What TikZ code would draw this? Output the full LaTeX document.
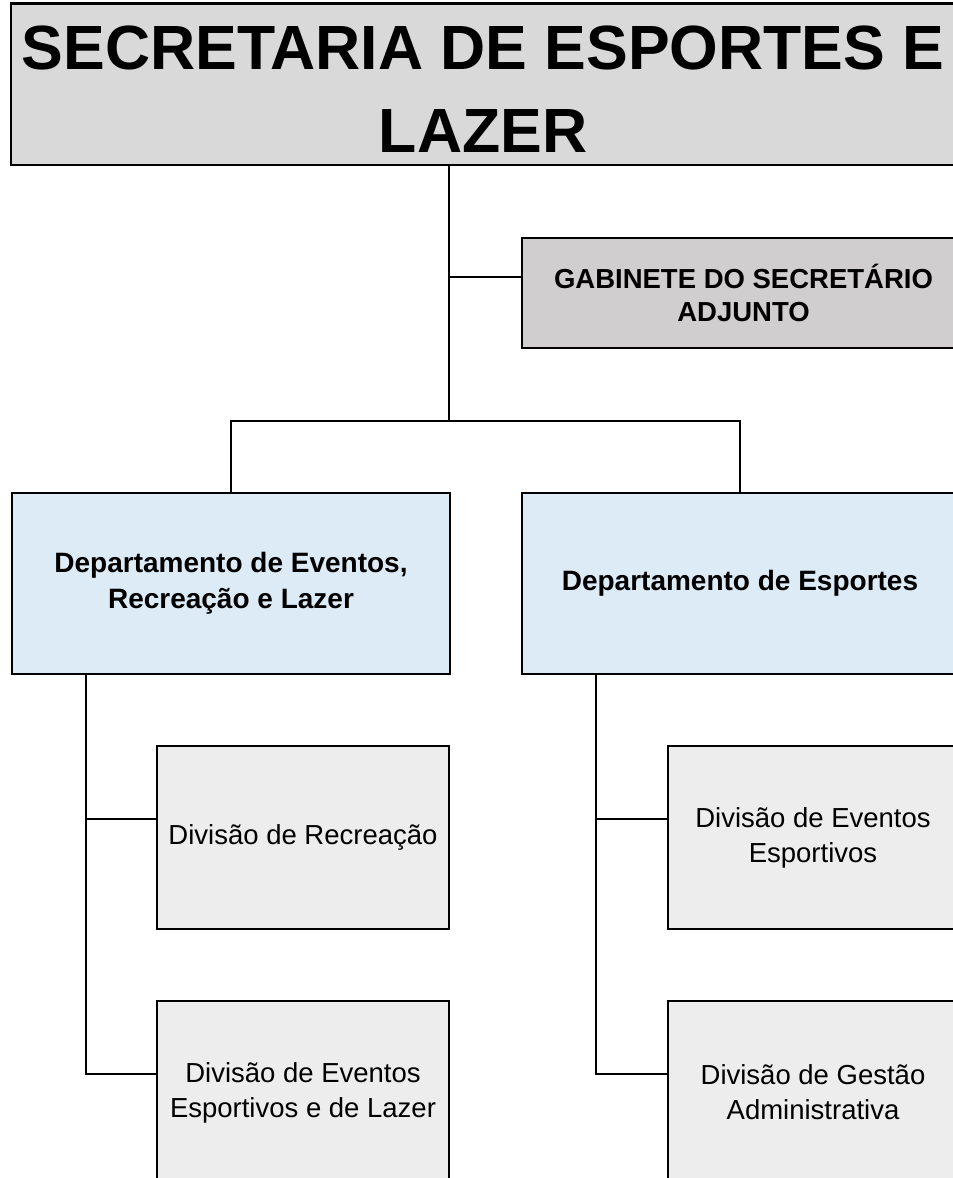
\documentclass[tikz,border=0pt]{standalone}
\usepackage{fontspec}
\setmainfont{Liberation Sans}
\usetikzlibrary{calc}
\definecolor{topgray}{HTML}{D9D9D9}
\definecolor{gabgray}{HTML}{D0CECE}
\definecolor{deptblue}{HTML}{DDEBF7}
\definecolor{divgray}{HTML}{EDEDED}
\tikzset{
  box/.style={draw=black, line width=2.2pt, rectangle, inner sep=0pt, align=center, text=black},
  topbox/.style={box, fill=topgray, minimum width=944pt, minimum height=161.5pt,
    font=\bfseries\fontsize{62.5}{83}\selectfont},
  gabbox/.style={box, fill=gabgray, minimum width=443pt, minimum height=110pt,
    font=\bfseries\fontsize{27.5}{33}\selectfont},
  deptbox/.style={box, fill=deptblue, minimum height=181pt,
    font=\bfseries\fontsize{28}{36}\selectfont},
  divbox/.style={box, fill=divgray, minimum height=183pt,
    font=\fontsize{27.5}{35}\selectfont},
  link/.style={draw=black, line width=2pt}
}
\begin{document}
\begin{tikzpicture}[x=1pt, y=-1pt]
\path[use as bounding box] (0,0) rectangle (953,1178);
\clip (0,0) rectangle (953,1178);

\node[topbox] (top) at (483,84.25) {\rule{0pt}{52.75pt}SECRETARIA DE ESPORTES E\\LAZER};
\node[gabbox] (gab) at (743.5,293) {GABINETE DO SECRETÁRIO\\ADJUNTO};
\node[deptbox, minimum width=438pt] (deptL) at (231,583.5) {Departamento de Eventos,\\Recreação e Lazer};
\node[deptbox, minimum width=436pt] (deptR) at (740,583.5) {Departamento de Esportes};
\node[divbox, minimum width=292pt] (divL1) at (303,837.5) {Divisão de Recreação};
\node[divbox, minimum width=292pt] (divL2) at (303,1092.5) {Divisão de Eventos\\Esportivos e de Lazer};
\node[divbox, minimum width=290pt] (divR1) at (813,837.5) {Divisão de Eventos\\Esportivos};
\node[divbox, minimum width=290pt] (divR2) at (813,1092.5) {Divisão de Gestão\\Administrativa};

\coordinate (j0) at (449,421);
\coordinate (gabin) at ($(gab.west)+(0,-16)$);
\coordinate (spL) at (86,674);
\coordinate (spR) at (596,674);
\coordinate (dL1) at ($(divL1.west)+(0,-18.5)$);
\coordinate (dL2) at ($(divL2.west)+(0,-18.5)$);
\coordinate (dR1) at ($(divR1.west)+(0,-18.5)$);
\coordinate (dR2) at ($(divR2.west)+(0,-18.5)$);

\draw[link] (top.south -| j0) -- (j0);
\draw[link] (gabin -| j0) -- (gabin);
\draw[link] (deptL.north) |- (j0) -| (deptR.north);
\draw[link] (spL) -- (spL |- dL2) -- (dL2);
\draw[link] (spL |- dL1) -- (dL1);
\draw[link] (spR) -- (spR |- dR2) -- (dR2);
\draw[link] (spR |- dR1) -- (dR1);
\end{tikzpicture}
\end{document}
